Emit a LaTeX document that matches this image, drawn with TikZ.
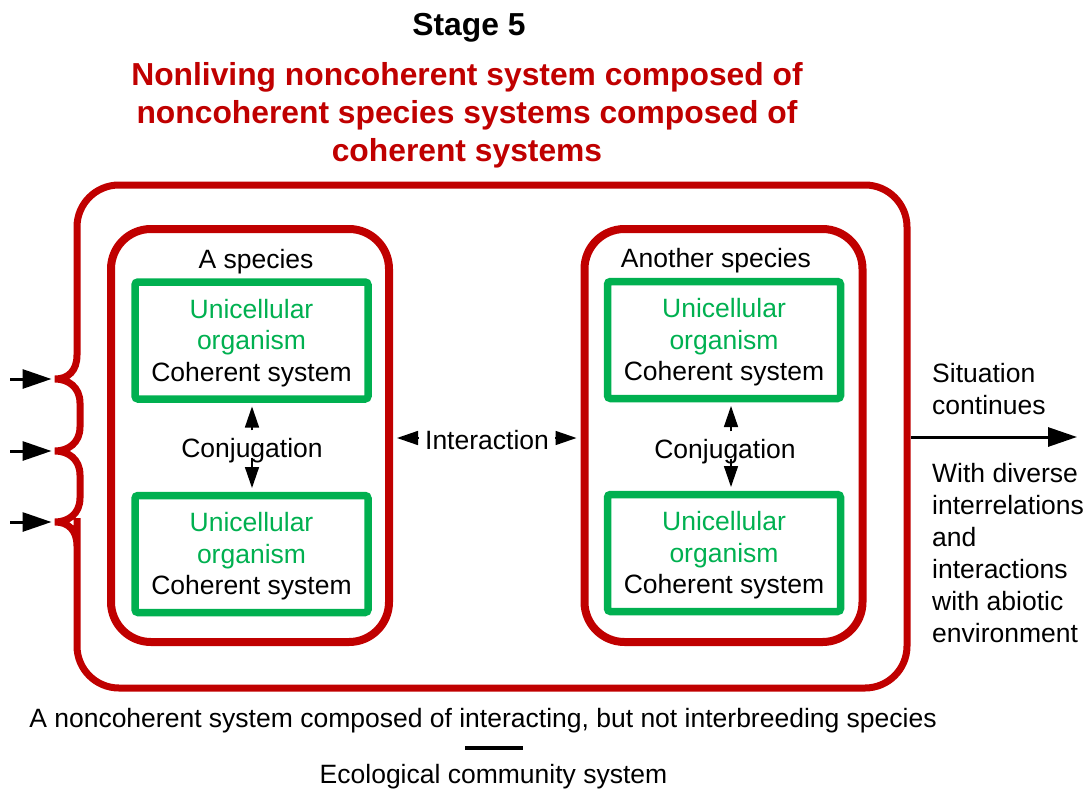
\documentclass[tikz,border=0pt]{standalone}
\usepackage{fontspec}
\setmainfont{Liberation Sans}
\usetikzlibrary{arrows.meta}
\definecolor{dred}{HTML}{C00000}
\definecolor{grn}{HTML}{00B050}
\newcommand\fnorm{\fontsize{26.5}{31.5}\selectfont}
\newcommand\fwide{\fontsize{26.5}{32}\selectfont}
\newcommand\fbold{\fontsize{31.8}{38}\selectfont\bfseries}
\newcommand\orgtext{\rule{0pt}{23.5pt}\textcolor{grn}{Unicellular}\\\textcolor{grn}{organism}\\Coherent system}
\begin{document}
\begin{tikzpicture}[x=1pt,y=-1pt,
  redline/.style={draw=dred, line width=7pt},
  species/.style={draw=dred, line width=8pt, rounded corners=40pt, minimum width=278pt, minimum height=413pt, inner sep=0pt},
  organism/.style={draw=grn, line width=7.5pt, rounded corners=3pt, minimum width=233pt, minimum height=117pt, inner sep=0pt, align=center, font=\fnorm},
  lbl/.style={font=\fnorm, inner sep=0pt},
  ttl/.style={font=\fbold, inner sep=0pt, align=center},
  bigarr/.style={line width=3pt, -{Triangle[length=29pt,width=19pt]}},
  smallarr/.style={line width=1.5pt, -{Triangle[length=21pt,width=14pt]}},
]
\useasboundingbox (0,0) rectangle (1086,789);

% titles
\node[ttl, anchor=base] (stage) at (469,35.5) {Stage 5};
\node[ttl, text=dred] (title) at (467,115.7) {Nonliving noncoherent system composed of\\noncoherent species systems composed of\\coherent systems};

% outer container with brace on the left
\draw[redline] (77,300) [rounded corners=42pt] -- (77,185) -- (907,185) -- (907,688) -- (77,688) -- (77,560)
  [sharp corners] -- (77,546)
  .. controls (77,530) and (68,522) .. (55,522)
  .. controls (68,522) and (80,514) .. (80,498)
  -- (80,475)
  .. controls (80,459) and (68,451) .. (55,451)
  .. controls (68,451) and (80,443) .. (80,427)
  -- (80,403)
  .. controls (80,387) and (68,379) .. (55,379)
  .. controls (68,379) and (77,371) .. (77,355)
  -- cycle;
\coordinate (c1) at (55,379);
\coordinate (c2) at (55,451);
\coordinate (c3) at (55,522);
\coordinate (s1) at (10,379);
\coordinate (s2) at (10,451);
\coordinate (s3) at (10,522);
\coordinate (oR) at (910.5,437);
\coordinate (eR) at (1077,437);

% species boxes
\node[species] (lsp) at (250,435.5) {};
\node[species] (rsp) at (723.5,435.5) {};
\node[lbl, anchor=base] (lspl) at (256,268.5) {A species};
\node[lbl, anchor=base] (rspl) at (716,267.5) {Another species};

% organisms
\node[organism] (gL1) at (251.5,340.5) {\orgtext};
\node[organism] (gL2) at (251.5,554) {\orgtext};
\node[organism] (gR1) at (724,340) {\orgtext};
\node[organism] (gR2) at (724,553) {\orgtext};

% conjugation
\node[lbl, anchor=base, text height=27pt, text depth=0pt] (conjL) at (252,457.5) {Conjugation};
\node[lbl, anchor=base, text height=27pt, text depth=0pt] (conjR) at (725,458.5) {Conjugation};
\draw[smallarr, shorten >=3.75pt] (conjL.north) -- (conjL.north |- gL1.south);
\draw[smallarr, shorten >=3.75pt] (conjL.south) -- (conjL.south |- gL2.north);
\draw[smallarr, shorten >=3.75pt] ([xshift=6pt]conjR.north) -- ([xshift=6pt]conjR.north |- gR1.south);
\draw[smallarr, shorten >=3.75pt] ([xshift=6pt]conjR.south) -- ([xshift=6pt]conjR.south |- gR2.north);

% interaction
\node[lbl, anchor=base, text height=23pt, text depth=0pt, inner xsep=6pt] (inter) at (487,449.5) {Interaction};
\draw[smallarr, shorten >=4pt] (inter.west) -- (inter.west -| lsp.east);
\draw[smallarr, shorten >=4pt] (inter.east) -- (inter.east -| rsp.west);

% inputs and output
\draw[bigarr, shorten >=3.5pt] (s1) -- (c1);
\draw[bigarr, shorten >=3.5pt] (s2) -- (c2);
\draw[bigarr, shorten >=3.5pt] (s3) -- (c3);
\draw[bigarr] (oR) -- (eR);

\node[lbl, anchor=north west, align=left, font=\fwide] (sit) at (932,363) {Situation\\continues};
\node[lbl, anchor=north west, align=left, font=\fwide] (with) at (932,463) {With diverse\\interrelations\\and\\interactions\\with abiotic\\environment};

% bottom labels
\node[lbl, anchor=base] (desc) at (483,727.5) {A noncoherent system composed of interacting, but not interbreeding species};
\coordinate (bl1) at (465,748);
\coordinate (bl2) at (523,748);
\draw[line width=3.5pt] (bl1) -- (bl2);
\node[lbl, anchor=base] (eco) at (493.5,783.5) {Ecological community system};
\end{tikzpicture}
\end{document}
